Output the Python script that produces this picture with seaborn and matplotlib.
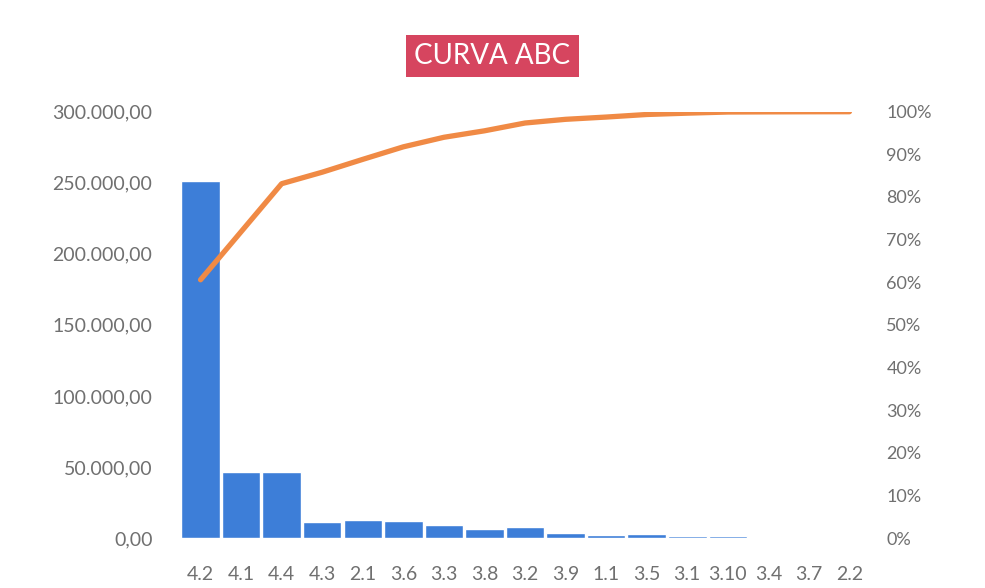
import numpy as np
import matplotlib
matplotlib.use("Agg")
import matplotlib.pyplot as plt
import seaborn as sb
from matplotlib.ticker import FuncFormatter, MultipleLocator

# Data
categorias = ['4.2', '4.1', '4.4', '4.3', '2.1', '3.6', '3.3', '3.8', '3.2',
              '3.9', '1.1', '3.5', '3.1', '3.10', '3.4', '3.7', '2.2']
valores = [251500, 46800, 46800, 11200, 12500, 12200, 9300, 6300, 7600,
           3600, 2200, 2500, 1300, 1100, 150, 100, 50]

acumulado = np.cumsum(valores) / np.sum(valores)

sb.set_style('white')
plt.rcParams['font.family'] = ['Lato', 'DejaVu Sans']

fig = plt.figure(figsize=(9.85, 5.88), dpi=100)
ax = fig.add_axes([0.183, 0.085, 0.7, 0.725])

sb.barplot(x=categorias, y=valores, color='#3d7ed8', saturation=1,
           width=0.95, ax=ax, order=categorias)
ax.set_xlim(-0.5, len(categorias) - 0.5)
ax.set_ylim(0, 300000)
ax.yaxis.set_major_locator(MultipleLocator(50000))

def fmt_br(v, pos):
    s = f'{v:,.2f}'
    return s.replace(',', 'X').replace('.', ',').replace('X', '.')

ax.yaxis.set_major_formatter(FuncFormatter(fmt_br))
ax.set_xlabel('')
ax.set_ylabel('')
ax.tick_params(axis='y', labelsize=14, labelcolor='#707070', length=0, pad=20)
ax.tick_params(axis='x', labelsize=14, labelcolor='#707070', length=0, pad=20)
for s in ax.spines.values():
    s.set_visible(False)

# Cumulative percentage on second axis
ax2 = ax.twinx()
ax2.plot(np.arange(len(categorias)), acumulado, color='#f08a45', lw=3.8,
         solid_joinstyle='round', solid_capstyle='round')
ax2.set_ylim(0, 1)
ax2.yaxis.set_major_locator(MultipleLocator(0.1))
ax2.yaxis.set_major_formatter(FuncFormatter(lambda v, p: f'{v * 100:.0f}%'))
ax2.tick_params(axis='y', labelsize=13, labelcolor='#707070', length=0, pad=12)
for s in ax2.spines.values():
    s.set_visible(False)

fig.text(0.5, 0.905, 'CURVA ABC', ha='center', va='center', fontsize=20,
         color='white',
         bbox=dict(boxstyle='square,pad=0.3', facecolor='#d6455f',
                   edgecolor='none'))

fig.savefig('out.png', dpi=100)
